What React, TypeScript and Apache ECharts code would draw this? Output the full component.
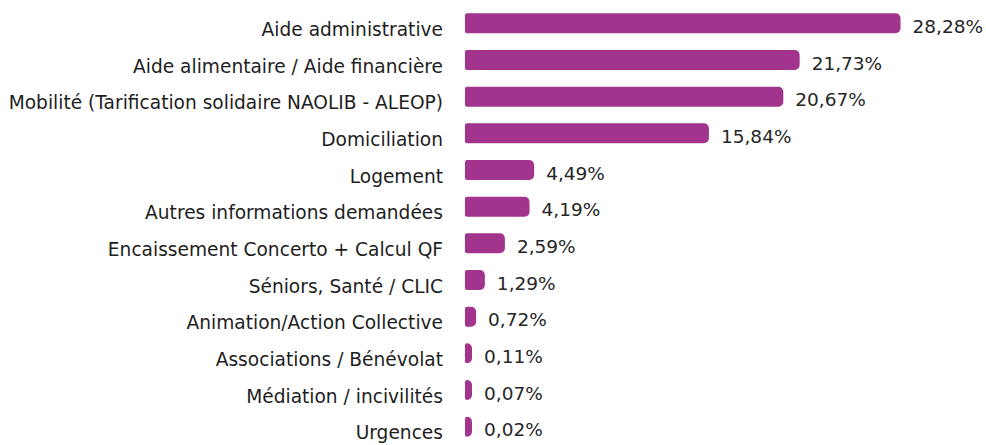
import React, { useEffect, useRef } from "react";
import * as echarts from "echarts";

const categories = [
  "Aide administrative",
  "Aide alimentaire / Aide financière",
  "Mobilité (Tarification solidaire NAOLIB - ALEOP)",
  "Domiciliation",
  "Logement",
  "Autres informations demandées",
  "Encaissement Concerto + Calcul QF",
  "Séniors, Santé / CLIC",
  "Animation/Action Collective",
  "Associations / Bénévolat",
  "Médiation / incivilités",
  "Urgences",
];

const values = [28.28, 21.73, 20.67, 15.84, 4.49, 4.19, 2.59, 1.29, 0.72, 0.11, 0.07, 0.02];

const FONT = "DejaVu Sans";

export default function App() {
  const ref = useRef<HTMLDivElement>(null);
  useEffect(() => {
    document.body.style.margin = "0";
    const chart = echarts.init(ref.current!, null, { renderer: "svg" });
    chart.setOption({
      animation: false,
      backgroundColor: "#ffffff",
      grid: { left: 465, top: 5, width: 462, height: 442 },
      xAxis: {
        type: "value",
        min: 0,
        max: 30,
        show: false,
      },
      yAxis: {
        type: "category",
        data: categories,
        inverse: true,
        axisLine: { show: false },
        axisTick: { show: false },
        axisLabel: {
          margin: 22,
          fontFamily: FONT,
          fontSize: 18.6,
          color: "#1e1e1e",
          verticalAlign: "top",
          lineHeight: 12,
        },
      },
      series: [
        {
          type: "bar",
          data: values,
          barWidth: 20,
          barMinHeight: 7,
          itemStyle: {
            color: "#a3348d",
            borderRadius: [2, 5, 5, 2],
          },
          label: {
            show: true,
            position: "right",
            distance: 12,
            offset: [0, 3],
            fontFamily: FONT,
            fontSize: 18.5,
            color: "#262626",
            formatter: (p: any) => p.value.toFixed(2).replace(".", ",") + "%",
          },
        },
      ],
    });
    return () => chart.dispose();
  }, []);
  return <div ref={ref} style={{ width: 986, height: 445 }} />;
}
